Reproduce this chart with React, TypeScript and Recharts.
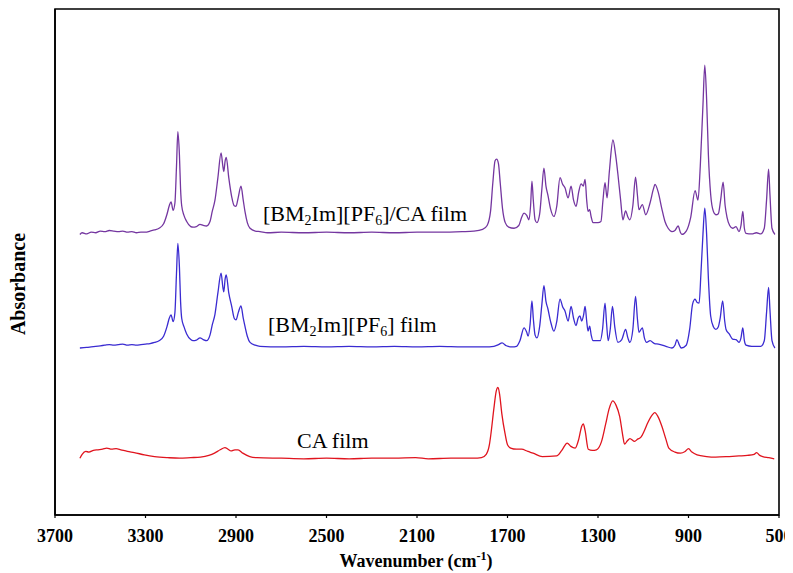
import React from "react";
import { LineChart, Line, XAxis, YAxis, ReferenceArea } from "recharts";

// ---- Data (wavenumber in cm-1, absorbance in offset units) ----
const hybridWavenumber = [3590,3580,3560,3540,3520,3500,3480,3460,3440,3420,3400,3380,3360,3340,3320,3300,3280,3260,3240,3220,3205,3195,3187,3178,3170,3163,3157,3150,3145,3140,3130,3118,3100,3090,3075,3059,3045,3030,3015,3005,2993,2980,2966,2958,2954,2948,2943,2932,2919,2908,2900,2890,2878,2868,2860,2850,2838,2815,2794,2760,2700,2600,2500,2400,2300,2200,2100,2000,1900,1850,1810,1790,1775,1765,1755,1748,1740,1732,1722,1710,1695,1671,1650,1637,1627,1615,1605,1598,1592,1586,1578,1570,1558,1548,1539,1530,1521,1510,1495,1482,1468,1456,1446,1432,1419,1408,1397,1385,1375,1365,1357,1350,1344,1337,1330,1322,1300,1287,1278,1269,1260,1250,1234,1222,1212,1200,1190,1178,1168,1159,1146,1134,1126,1119,1104,1089,1070,1055,1048,1033,1018,1004,990,973,960,946,935,929,910,890,871,858,848,836,828,820,812,802,790,779,768,758,747,738,730,718,705,690,677,668,660,653,646,620,600,580,565,555,546,540,531,518];
const hybridAbsorbance = [4.99,5.02,5.0,5.03,5.02,5.05,5.04,5.06,5.05,5.04,5.05,5.03,5.04,5.02,5.03,5.03,5.05,5.07,5.1,5.18,5.35,5.5,5.57,5.42,5.55,6.2,6.82,6.4,5.8,5.5,5.33,5.22,5.13,5.12,5.13,5.17,5.15,5.14,5.22,5.4,5.6,6.0,6.44,6.2,6.11,6.3,6.36,6.0,5.66,5.5,5.49,5.65,5.85,5.6,5.39,5.2,5.1,5.05,5.04,5.02,5.03,5.02,5.03,5.02,5.03,5.02,5.03,5.03,5.04,5.05,5.08,5.15,5.4,5.9,6.3,6.33,6.25,5.9,5.45,5.2,5.12,5.1,5.15,5.3,5.37,5.33,5.25,5.5,5.94,5.6,5.25,5.2,5.35,5.8,6.17,5.85,5.68,5.45,5.31,5.5,6.0,5.88,5.82,5.64,5.85,5.6,5.49,5.75,5.89,5.85,5.97,5.6,5.4,5.43,5.3,5.2,5.2,5.22,5.6,5.91,5.64,6.1,6.67,6.4,6.06,5.6,5.25,5.41,5.3,5.25,5.5,6.01,5.7,5.43,5.52,5.34,5.55,5.8,5.88,5.73,5.45,5.22,5.1,5.04,5.06,5.14,5.02,4.99,5.05,5.3,5.77,5.6,6.2,7.3,8.0,7.4,6.4,5.7,5.4,5.34,5.36,5.6,5.92,5.5,5.3,5.15,5.1,5.13,5.04,5.15,5.4,5.1,5.01,5.0,5.02,5.0,5.1,5.6,6.15,5.7,5.1,4.99];

const ilWavenumber = [3590,3560,3540,3520,3500,3480,3460,3440,3420,3400,3380,3360,3340,3320,3300,3280,3260,3240,3220,3205,3195,3187,3178,3170,3163,3157,3150,3145,3140,3130,3118,3100,3090,3075,3059,3045,3030,3015,3005,2993,2980,2966,2958,2954,2948,2943,2932,2919,2908,2900,2890,2878,2868,2860,2850,2838,2815,2794,2700,2600,2500,2400,2300,2200,2100,2000,1900,1800,1760,1740,1724,1705,1680,1660,1645,1627,1615,1609,1600,1592,1586,1578,1570,1558,1548,1539,1530,1521,1510,1495,1482,1468,1456,1446,1432,1419,1408,1397,1388,1380,1372,1364,1357,1350,1344,1337,1330,1322,1290,1280,1269,1262,1255,1246,1236,1226,1212,1195,1178,1168,1159,1146,1134,1126,1119,1104,1095,1085,1070,1050,1033,1000,973,960,951,940,932,910,895,882,871,862,853,845,836,828,820,812,802,790,779,768,760,749,740,734,720,705,690,677,668,660,653,646,620,600,580,565,555,546,540,531,518];
const ilAbsorbance = [2.97,2.98,2.99,3.0,3.01,3.02,3.03,3.02,3.03,3.04,3.02,3.03,3.02,3.03,3.04,3.05,3.07,3.1,3.18,3.35,3.5,3.56,3.44,3.6,4.3,4.83,4.4,3.8,3.5,3.35,3.22,3.12,3.1,3.11,3.15,3.12,3.1,3.2,3.38,3.57,3.95,4.3,4.05,3.97,4.2,4.27,3.95,3.71,3.5,3.47,3.6,3.72,3.5,3.35,3.18,3.07,3.02,3.0,2.99,3.0,2.99,3.0,2.99,3.0,2.99,3.0,2.99,2.99,3.0,3.03,3.06,3.01,2.99,3.0,3.1,3.33,3.25,3.18,3.4,3.81,3.5,3.2,3.15,3.35,3.75,4.08,3.8,3.66,3.45,3.27,3.45,3.84,3.7,3.63,3.45,3.71,3.5,3.37,3.5,3.54,3.45,3.55,3.71,3.45,3.27,3.36,3.2,3.1,3.1,3.3,3.77,3.4,3.1,3.3,3.71,3.35,3.07,3.12,3.3,3.15,3.07,3.3,3.89,3.5,3.25,3.33,3.15,3.07,3.1,3.05,3.04,3.0,2.97,3.02,3.12,3.02,2.97,3.02,3.3,3.75,3.84,3.78,3.77,4.3,5.0,5.46,5.0,4.2,3.54,3.35,3.3,3.35,3.5,3.81,3.45,3.3,3.22,3.13,3.12,3.07,3.15,3.33,3.1,3.02,3.0,3.0,3.0,3.1,3.6,4.05,3.65,3.1,2.97];

const caWavenumber = [3590,3580,3564,3550,3530,3510,3490,3471,3450,3430,3409,3380,3350,3305,3260,3202,3150,3100,3057,3020,2995,2970,2949,2935,2922,2905,2891,2870,2839,2808,2700,2600,2500,2400,2300,2200,2106,2050,1950,1850,1815,1794,1780,1773,1760,1750,1742,1735,1725,1711,1700,1686,1660,1638,1610,1587,1546,1483,1460,1436,1420,1401,1385,1372,1365,1357,1343,1325,1307,1285,1266,1250,1235,1220,1204,1190,1183,1170,1159,1138,1125,1111,1095,1080,1060,1049,1035,1017,1000,987,960,935,915,900,885,862,820,780,720,677,640,610,599,585,572,545,521];
const caAbsorbance = [1.01,1.08,1.13,1.12,1.15,1.16,1.17,1.19,1.17,1.18,1.16,1.13,1.11,1.07,1.04,1.02,1.01,1.02,1.03,1.06,1.1,1.16,1.2,1.17,1.14,1.16,1.16,1.1,1.04,1.02,1.01,1.0,1.01,1.0,1.01,1.01,1.02,1.0,1.01,1.01,1.02,1.08,1.25,1.45,1.9,2.2,2.27,2.15,1.8,1.45,1.25,1.19,1.17,1.17,1.13,1.1,1.04,1.05,1.15,1.28,1.22,1.19,1.35,1.58,1.62,1.5,1.17,1.15,1.16,1.3,1.62,1.9,2.03,1.95,1.75,1.4,1.26,1.32,1.36,1.31,1.35,1.38,1.5,1.64,1.78,1.82,1.75,1.57,1.35,1.19,1.12,1.1,1.13,1.18,1.12,1.07,1.04,1.03,1.04,1.05,1.06,1.08,1.11,1.06,1.04,1.02,1.0];

const xTicks = [3700, 3300, 2900, 2500, 2100, 1700, 1300, 900, 500];
const yTicks = [0, 1, 2, 3, 4, 5, 6, 7, 8, 9];

const toSeries = (w: number[], a: number[]) => w.map((v, i) => ({ w: v, a: a[i] }));
const hybridData = toSeries(hybridWavenumber, hybridAbsorbance);
const ilData = toSeries(ilWavenumber, ilAbsorbance);
const caData = toSeries(caWavenumber, caAbsorbance);

const W = 785;
const H = 565;
const serif = "Liberation Serif";

export default function App() {
  return (
    <div style={{ position: "relative", width: W, height: H }}>
      <LineChart width={W} height={H} margin={{ top: 1, right: 14, bottom: 28, left: 27 }} style={{ fontFamily: serif, overflow: "visible" }}>
        <XAxis
          dataKey="w"
          type="number"
          domain={[500, 3700]}
          reversed
          ticks={xTicks}
          allowDataOverflow
          height={30}
          axisLine={{ stroke: "#000", strokeWidth: 1.6 }}
          tickLine={{ stroke: "#000", strokeWidth: 1.2 }}
          tickSize={3}
          tickMargin={11}
          tick={{ fill: "#000", fontFamily: serif, fontWeight: "bold", fontSize: 18 }}
        />
        <YAxis
          type="number"
          domain={[0, 9]}
          ticks={yTicks}
          width={20}
          tick={false}
          axisLine={{ stroke: "#000", strokeWidth: 1.6 }}
          tickLine={{ stroke: "#000", strokeWidth: 1.2 }}
          tickSize={5}
        />
        <ReferenceArea x1={3700} x2={500} y1={0} y2={9} fill="none" stroke="#000" strokeWidth={1.6} />
        <Line data={caData} dataKey="a" type="monotone" stroke="#e0141e" strokeWidth={1.3} dot={false} isAnimationActive={false} />
        <Line data={ilData} dataKey="a" type="monotone" stroke="#3a2bd1" strokeWidth={1.3} dot={false} isAnimationActive={false} />
        <Line data={hybridData} dataKey="a" type="monotone" stroke="#7436a0" strokeWidth={1.3} dot={false} isAnimationActive={false} />
      </LineChart>
      <svg width={W} height={H} style={{ position: "absolute", left: 0, top: 0, pointerEvents: "none", fontFamily: serif }}>
        <text x={255} y={213} fontFamily={serif} fontSize={22} fill="#000">
          [BM<tspan dy={4} fontSize={14}>2</tspan><tspan dy={-4}>Im][PF</tspan><tspan dy={4} fontSize={14}>6</tspan><tspan dy={-4}>]/CA film</tspan>
        </text>
        <text x={260} y={324} fontFamily={serif} fontSize={22} fill="#000">
          [BM<tspan dy={4} fontSize={14}>2</tspan><tspan dy={-4}>Im][PF</tspan><tspan dy={4} fontSize={14}>6</tspan><tspan dy={-4}>] film</tspan>
        </text>
        <text x={289} y={440} fontFamily={serif} fontSize={22} fill="#000">CA film</text>
        <text x={408} y={559} textAnchor="middle" fontFamily={serif} fontWeight="bold" fontSize={18} fill="#000">
          Wavenumber (cm<tspan dy={-7} fontSize={12}>-1</tspan><tspan dy={7}>)</tspan>
        </text>
        <text x={17} y={276} textAnchor="middle" transform="rotate(-90 17 276)" fontFamily={serif} fontWeight="bold" fontSize={20} fill="#000">
          Absorbance
        </text>
      </svg>
    </div>
  );
}
